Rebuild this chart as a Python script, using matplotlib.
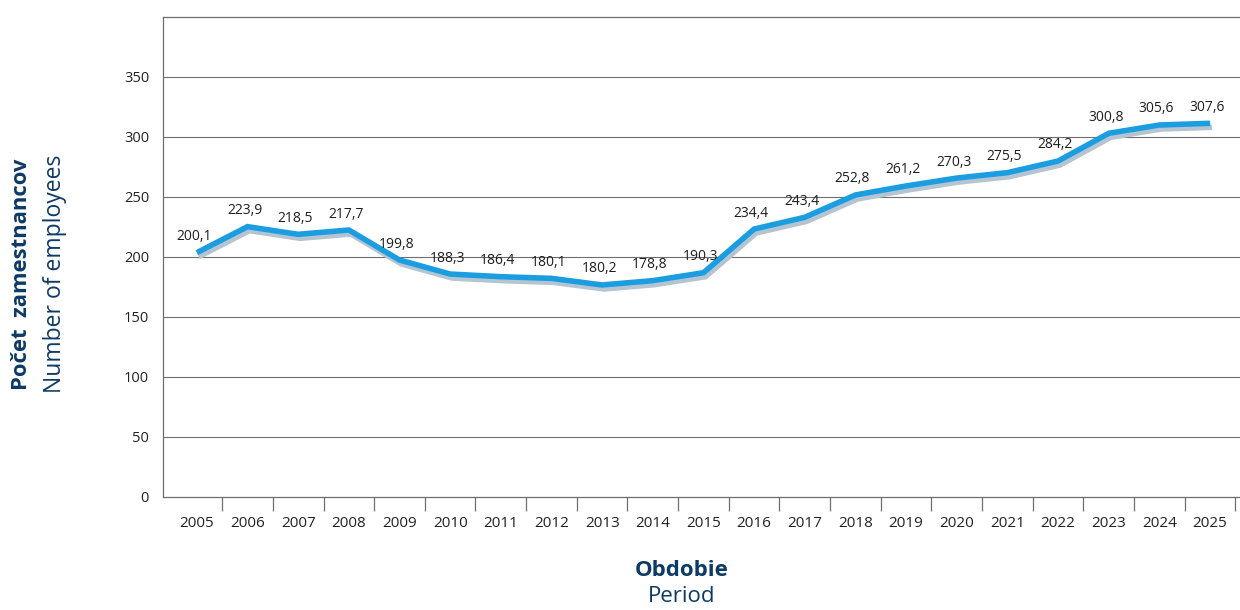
import matplotlib
matplotlib.use('Agg')
import matplotlib.pyplot as plt
from matplotlib.transforms import offset_copy

plt.rcParams['font.family'] = ['Open Sans', 'DejaVu Sans']

years = [str(y) for y in range(2005, 2026)]
# line heights as drawn in the chart
employees = [203.6, 225.3, 218.9, 222.5, 197.5, 185.8, 183.6, 182.2, 176.7, 180.3, 186.9,
             223.3, 233.1, 251.7, 259.2, 265.8, 270.3, 280.0, 303.1, 310.0, 311.4]
# value labels as printed above the line
value_labels = ['200,1', '223,9', '218,5', '217,7', '199,8', '188,3', '186,4', '180,1', '180,2',
                '178,8', '190,3', '234,4', '243,4', '252,8', '261,2', '270,3', '275,5', '284,2',
                '300,8', '305,6', '307,6']
y_ticks = [0, 50, 100, 150, 200, 250, 300, 350]

NAVY = '#0d3a66'
BLUE = '#1b9de2'
SHADOW = '#b5c4d1'
GRID = '#6e6e6e'

fig = plt.figure(figsize=(12.4, 6.1), dpi=100)
ax = fig.add_axes([163 / 1240, 1 - 497 / 610, 1077 / 1240, 480 / 610])

x = list(range(len(years)))
shadow_tr = offset_copy(ax.transData, fig=fig, x=2, y=-4, units='dots')
ax.plot(x, employees, color=SHADOW, linewidth=4, transform=shadow_tr,
        solid_joinstyle='miter', solid_capstyle='butt', zorder=3)
ax.plot(x, employees, color=BLUE, linewidth=4,
        solid_joinstyle='miter', solid_capstyle='butt', zorder=4)

for xi, yi, lab in zip(x, employees, value_labels):
    ax.annotate(lab, (xi, yi), xytext=(-3, 16), textcoords='offset pixels',
                ha='center', va='center', fontsize=10, color='#1e1e1e', zorder=5)

ax.set_ylim(0, 400)
ax.set_xlim(-0.668, 20.59)

ax.set_yticks(y_ticks)
ax.set_yticklabels([str(v) for v in y_ticks])
ax.tick_params(axis='y', length=0, pad=10, labelsize=10.5, labelcolor='#222222')
for v in y_ticks[1:]:
    ax.axhline(v, color=GRID, linewidth=0.8, zorder=1)

ax.set_xticks([i + 0.5 for i in range(len(years))])
ax.set_xticklabels([])
ax.set_xticks(x, minor=True)
ax.set_xticklabels(years, minor=True)
ax.tick_params(axis='x', which='major', length=10, width=0.9, color=GRID, direction='out')
ax.tick_params(axis='x', which='minor', length=0, pad=14, labelsize=11, labelcolor='#222222')

for side in ['top', 'left', 'bottom']:
    ax.spines[side].set_color(GRID)
    ax.spines[side].set_linewidth(0.9)
ax.spines['right'].set_visible(False)

fig.text(22 / 1240, 1 - 274 / 610, 'Počet  zamestnancov', rotation=90, ha='center', va='center',
         fontsize=15.8, fontweight='bold', color=NAVY)
fig.text(55 / 1240, 1 - 274 / 610, 'Number of employees', rotation=90, ha='center', va='center',
         fontsize=16.5, color=NAVY)
fig.text(682 / 1240, 1 - 571 / 610, 'Obdobie', ha='center', va='center',
         fontsize=16, fontweight='bold', color=NAVY)
fig.text(682 / 1240, 1 - 597 / 610, 'Period', ha='center', va='center',
         fontsize=16, color=NAVY)

fig.savefig('out.png', dpi=100)
